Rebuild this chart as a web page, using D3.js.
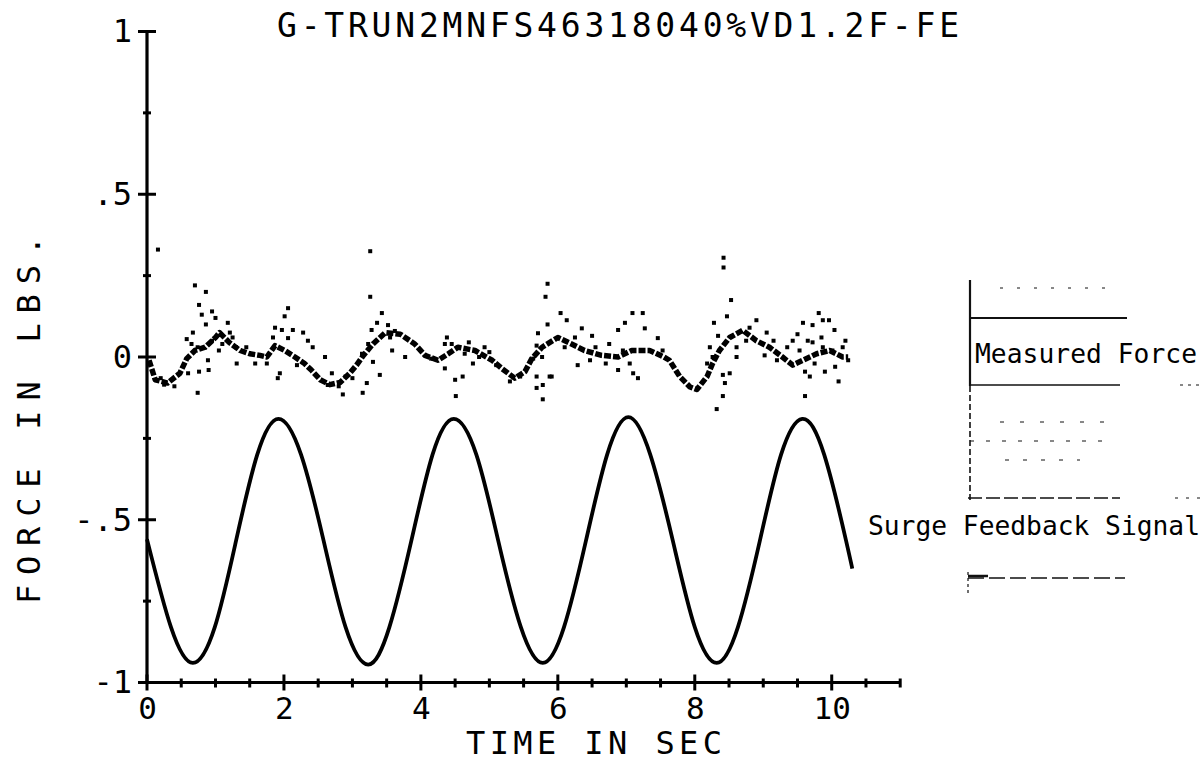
<!DOCTYPE html>
<html>
<head>
<meta charset="utf-8">
<script src="https://cdn.jsdelivr.net/npm/d3@7"></script>
<style>
  html, body { margin: 0; padding: 0; background: #fff; }
  svg { display: block; }
  text { font-family: "DejaVu Sans Mono", "Liberation Mono", monospace; fill: #000; }
</style>
</head>
<body>
<svg id="chart" width="1202" height="763"></svg>
<script>
// ---------------- data ----------------
const titleText = "G-TRUN2MNFS46318040%VD1.2F-FE";
const xTitle = "TIME IN SEC";
const yTitle = "FORCE IN LBS.";
const xMajorTicks = [0, 2, 4, 6, 8, 10];
const xTickLabels = ["0", "2", "4", "6", "8", "10"];
const xMinorTicks = [0.5, 1, 1.5, 2.5, 3, 3.5, 4.5, 5, 5.5, 6.5, 7, 7.5, 8.5, 9, 9.5, 10.5, 11];
const yMajorTicks = [1, 0.5, 0, -0.5, -1];
const yTickLabels = ["1", ".5", "0", "-.5", "-1"];
const yMinorTicks = [0.75, 0.25, -0.25, -0.75];

// Surge Feedback Signal (time in sec, force)
const surgeTime = [0.00, 0.35, 0.67, 0.99, 1.30, 1.61, 1.92, 2.25, 2.58, 2.90, 3.23, 3.54, 3.86, 4.17, 4.48, 4.81, 5.13, 5.46, 5.78, 6.09, 6.41, 6.72, 7.03, 7.35, 7.68, 8.00, 8.32, 8.63, 8.95, 9.26, 9.57, 9.89, 10.21, 10.30];
const surgeForce = [-0.56, -0.83, -0.94, -0.83, -0.565, -0.30, -0.19, -0.30, -0.565, -0.83, -0.945, -0.83, -0.565, -0.30, -0.19, -0.30, -0.565, -0.83, -0.94, -0.83, -0.565, -0.30, -0.185, -0.30, -0.565, -0.83, -0.94, -0.83, -0.565, -0.30, -0.19, -0.30, -0.565, -0.65];

// Measured Force: dense trace
const measTime = [0.03, 0.12, 0.30, 0.48, 0.58, 0.70, 0.85, 1.00, 1.06, 1.20, 1.36, 1.50, 1.65, 1.75, 1.87, 2.01, 2.16, 2.30, 2.40, 2.53, 2.67, 2.82, 2.96, 3.06, 3.16, 3.30, 3.48, 3.70, 3.91, 4.06, 4.25, 4.40, 4.54, 4.79, 5.04, 5.18, 5.37, 5.52, 5.62, 5.77, 6.00, 6.20, 6.39, 6.64, 6.88, 7.08, 7.34, 7.55, 7.63, 7.78, 7.93, 8.03, 8.18, 8.26, 8.36, 8.51, 8.70, 8.90, 9.09, 9.28, 9.43, 9.58, 9.78, 9.97, 10.16, 10.24];
const measForce = [-0.01, -0.07, -0.08, -0.05, -0.005, 0.02, 0.03, 0.06, 0.075, 0.045, 0.02, 0.01, 0.005, 0.0, 0.035, 0.02, 0.0, -0.02, -0.04, -0.07, -0.085, -0.078, -0.05, -0.025, 0.005, 0.04, 0.075, 0.07, 0.04, 0.005, -0.01, 0.01, 0.03, 0.02, -0.01, -0.035, -0.065, -0.045, -0.005, 0.03, 0.06, 0.04, 0.02, 0.005, 0.0, 0.02, 0.02, 0.0, -0.01, -0.06, -0.092, -0.1, -0.06, -0.02, 0.02, 0.06, 0.082, 0.05, 0.03, 0.0, -0.025, -0.01, 0.01, 0.02, 0.0, 0.0];

// Measured Force: scattered samples
const scatterTime = [0.16, 0.70, 0.86, 0.76, 0.95, 0.80, 1.00, 0.86, 1.18, 0.67, 0.58, 0.74, 0.89, 0.76, 0.90, 0.74, 0.60, 1.21, 1.31, 1.58, 1.75, 1.87, 2.06, 2.01, 1.97, 2.13, 2.28, 2.06, 1.84, 1.94, 1.91, 2.19, 2.35, 2.42, 2.60, 2.70, 2.64, 2.86, 3.00, 3.15, 3.21, 3.14, 3.23, 3.28, 3.26, 3.26, 3.43, 3.36, 3.30, 3.40,
  3.52, 3.58, 3.77, 4.35, 4.38, 4.35, 4.50, 4.51, 4.61, 4.64, 4.76, 4.93,
  5.85, 5.82, 6.04, 6.13, 5.85, 5.71, 5.69, 5.77, 5.64, 5.69, 5.88, 5.78, 5.69, 5.78, 5.91, 6.35, 6.50, 6.29, 6.47, 6.88, 6.98, 7.09, 7.05, 6.88,
  7.24, 7.27, 7.46, 7.53, 7.17, 7.10,
  8.42, 8.42, 8.53, 8.47, 8.28, 8.34, 8.22, 8.26, 8.18, 8.41, 8.51, 8.44, 8.41, 8.32, 8.61, 8.61, 8.90, 9.05, 9.02, 9.43, 9.53, 9.58, 9.72, 9.81, 9.87, 9.96, 10.04, 9.72, 9.87, 10.01, 10.16, 10.24, 9.61, 9.68, 9.90, 10.10, 9.61,
  1.10, 1.25, 1.30, 1.45, 0.95, 1.05, 0.65,
  6.10, 6.25, 6.55, 6.70, 6.75, 6.95,
  8.75, 8.80, 9.15, 9.20, 9.35, 9.50, 9.65, 9.75, 9.85, 10.05, 10.20,
  3.55, 3.62, 4.15, 4.45, 4.70, 4.85, 5.00, 5.10, 5.30, 5.45,
  2.80, 2.90, 0.20, 0.40, 0.25];
const scatterForce = [0.33, 0.22, 0.20, 0.16, 0.14, 0.13, 0.12, 0.10, 0.105, 0.075, 0.055, 0.03, -0.01, -0.045, -0.04, -0.11, -0.05, 0.075, -0.02, -0.02, -0.02, 0.09, 0.15, 0.125, 0.083, 0.083, 0.075, 0.058, 0.06, -0.05, -0.065, -0.025, 0.05, 0.03, 0.0, -0.05, -0.086, -0.115, -0.065, -0.11, -0.08, 0.01, 0.04, 0.083, 0.185, 0.325, 0.135, 0.105, -0.015, -0.055,
  0.098, 0.02, 0.0, 0.04, 0.06, -0.035, -0.07, -0.12, -0.06, 0.01, -0.02, 0.03,
  0.225, 0.185, 0.135, 0.113, 0.10, 0.073, 0.035, 0.0, -0.005, -0.06, -0.06, -0.086, -0.095, -0.13, -0.06, 0.088, 0.065, -0.025, -0.01, 0.083, 0.105, 0.135, -0.02, -0.04,
  0.135, 0.088, 0.058, 0.02, -0.065, -0.05,
  0.305, 0.275, 0.175, 0.125, 0.105, 0.065, 0.03, 0.0, -0.02, -0.055, -0.05, -0.08, -0.12, -0.16, 0.0, 0.03, 0.113, 0.075, 0.005, 0.05, 0.02, 0.105, 0.098, 0.135, 0.113, 0.113, 0.083, 0.045, 0.03, 0.02, 0.03, -0.01, -0.045, -0.06, -0.045, -0.075, -0.12,
  0.04, 0.06, 0.03, 0.03, 0.05, 0.02, 0.04,
  0.03, 0.06, 0.03, -0.02, 0.04, 0.02,
  0.05, 0.09, 0.05, -0.01, 0.03, 0.07, 0.05, -0.02, 0.06, -0.03, 0.05,
  0.06, 0.08, -0.005, 0.04, 0.045, 0.0, 0.015, -0.025, -0.075, -0.06,
  -0.09, -0.06, -0.065, -0.09, -0.085];

const legendMeasured = "Measured Force";
const legendSurge = "Surge Feedback Signal";

// ---------------- drawing ----------------
const svg = d3.select("#chart");
const x = d3.scaleLinear().domain([0, 11]).range([147, 900.2]);
const y = d3.scaleLinear().domain([-1, 1]).range([682.5, 31.5]);

// Title
svg.append("text")
  .attr("x", 277).attr("y", 37)
  .attr("font-size", 33)
  .attr("textLength", 682).attr("lengthAdjust", "spacing")
  .text(titleText);

// Surge feedback signal
const surge = surgeTime.map((t, i) => [t, surgeForce[i]]);
svg.append("path")
  .datum(surge)
  .attr("fill", "none")
  .attr("stroke", "#000")
  .attr("stroke-width", 3.8)
  .attr("stroke-linejoin", "round")
  .attr("d", d3.line().x(d => x(d[0])).y(d => y(d[1])).curve(d3.curveNatural));

// Measured force: dense trace
const meas = measTime.map((t, i) => [t, measForce[i]]);
svg.append("path")
  .datum(meas)
  .attr("fill", "none")
  .attr("stroke", "#000")
  .attr("stroke-width", 5.5)
  .attr("stroke-dasharray", "7,2")
  .attr("stroke-linejoin", "round")
  .attr("d", d3.line().x(d => x(d[0])).y(d => y(d[1])).curve(d3.curveLinear));

// Measured force: scattered samples
const scat = scatterTime.map((t, i) => [t, scatterForce[i]]);
svg.append("g").selectAll("rect")
  .data(scat)
  .join("rect")
  .attr("x", d => x(d[0]) - 2)
  .attr("y", d => y(d[1]) - 2)
  .attr("width", 4)
  .attr("height", 4)
  .attr("fill", "#000");

// Axes lines
svg.append("line")
  .attr("x1", x(0)).attr("x2", x(0))
  .attr("y1", y(1)).attr("y2", y(-1))
  .attr("stroke", "#000").attr("stroke-width", 3.2);
svg.append("line")
  .attr("x1", x(0)).attr("x2", x(11))
  .attr("y1", y(-1)).attr("y2", y(-1))
  .attr("stroke", "#000").attr("stroke-width", 3.2);

// Y ticks (crossing)
svg.append("g").selectAll("line")
  .data(yMajorTicks).join("line")
  .attr("x1", x(0) - 9).attr("x2", x(0) + 9)
  .attr("y1", d => y(d)).attr("y2", d => y(d))
  .attr("stroke", "#000").attr("stroke-width", 3);
svg.append("g").selectAll("line")
  .data(yMinorTicks).join("line")
  .attr("x1", x(0) - 4).attr("x2", x(0) + 4)
  .attr("y1", d => y(d)).attr("y2", d => y(d))
  .attr("stroke", "#000").attr("stroke-width", 3);

// X ticks (crossing)
svg.append("g").selectAll("line")
  .data(xMajorTicks).join("line")
  .attr("x1", d => x(d)).attr("x2", d => x(d))
  .attr("y1", y(-1) - 8).attr("y2", y(-1) + 8)
  .attr("stroke", "#000").attr("stroke-width", 3);
svg.append("g").selectAll("line")
  .data(xMinorTicks).join("line")
  .attr("x1", d => x(d)).attr("x2", d => x(d))
  .attr("y1", y(-1) - 4).attr("y2", y(-1) + 5)
  .attr("stroke", "#000").attr("stroke-width", 3);

// Tick labels via d3 axes
const yAxis = d3.axisLeft(y).tickValues(yMajorTicks)
  .tickFormat((d, i) => yTickLabels[i]).tickSize(0).tickPadding(15);
const gy = svg.append("g").attr("transform", `translate(${x(0)},0)`).call(yAxis);
gy.select(".domain").remove();
gy.selectAll("text").attr("font-size", 32).attr("fill", "#000")
  .attr("font-family", "DejaVu Sans Mono, monospace");

const xAxis = d3.axisBottom(x).tickValues(xMajorTicks)
  .tickFormat((d, i) => xTickLabels[i]).tickSize(0).tickPadding(14);
const gx = svg.append("g").attr("transform", `translate(0,${y(-1)})`).call(xAxis);
gx.select(".domain").remove();
gx.selectAll("text").attr("font-size", 31).attr("fill", "#000")
  .attr("font-family", "DejaVu Sans Mono, monospace");

// Axis titles
svg.append("text")
  .attr("x", 466).attr("y", 754)
  .attr("font-size", 32)
  .attr("textLength", 256).attr("lengthAdjust", "spacing")
  .text(xTitle);

svg.append("text")
  .attr("transform", "translate(40,420) rotate(-90)")
  .attr("text-anchor", "middle")
  .attr("font-size", 32)
  .attr("textLength", 368).attr("lengthAdjust", "spacing")
  .text(yTitle);

// Legend remnants (scan frame lines)
const frame = svg.append("g").attr("stroke", "#111").attr("fill", "none");
frame.append("line").attr("x1", 970).attr("x2", 970).attr("y1", 280).attr("y2", 386).attr("stroke-width", 2.2);
frame.append("line").attr("x1", 970).attr("x2", 970).attr("y1", 386).attr("y2", 500).attr("stroke-width", 1.6).attr("stroke-dasharray", "6,3");
frame.append("line").attr("x1", 970).attr("x2", 1127).attr("y1", 318).attr("y2", 318).attr("stroke-width", 1.8);
frame.append("line").attr("x1", 970).attr("x2", 1120).attr("y1", 385).attr("y2", 385).attr("stroke-width", 1.4);
frame.append("line").attr("x1", 968).attr("x2", 1120).attr("y1", 498).attr("y2", 498).attr("stroke-width", 1.4).attr("stroke-dasharray", "14,4");
frame.append("line").attr("x1", 968).attr("x2", 1125).attr("y1", 578).attr("y2", 578).attr("stroke-width", 1.4).attr("stroke-dasharray", "16,5");
frame.append("line").attr("x1", 968).attr("x2", 988).attr("y1", 576).attr("y2", 576).attr("stroke-width", 2.5);
frame.append("line").attr("x1", 968).attr("x2", 968).attr("y1", 572).attr("y2", 596).attr("stroke-width", 1.2).attr("stroke-dasharray", "3,3");
frame.append("line").attr("x1", 1000).attr("x2", 1112).attr("y1", 288).attr("y2", 288).attr("stroke-width", 1).attr("stroke-dasharray", "3,14");
frame.append("line").attr("x1", 1000).attr("x2", 1112).attr("y1", 422).attr("y2", 422).attr("stroke-width", 1).attr("stroke-dasharray", "4,16");
frame.append("line").attr("x1", 970).attr("x2", 1112).attr("y1", 441).attr("y2", 441).attr("stroke-width", 1).attr("stroke-dasharray", "4,12");
frame.append("line").attr("x1", 1005).attr("x2", 1080).attr("y1", 460).attr("y2", 460).attr("stroke-width", 1).attr("stroke-dasharray", "4,14");
frame.append("line").attr("x1", 1180).attr("x2", 1202).attr("y1", 385).attr("y2", 385).attr("stroke-width", 1).attr("stroke-dasharray", "3,5");
frame.append("line").attr("x1", 1175).attr("x2", 1202).attr("y1", 498).attr("y2", 498).attr("stroke-width", 1).attr("stroke-dasharray", "3,8");

// Legend labels
svg.append("text")
  .attr("x", 975).attr("y", 363)
  .attr("font-size", 26.3)
  .attr("textLength", 222).attr("lengthAdjust", "spacing")
  .text(legendMeasured);
svg.append("text")
  .attr("x", 868).attr("y", 535)
  .attr("font-size", 26.3)
  .attr("textLength", 332).attr("lengthAdjust", "spacing")
  .text(legendSurge);
</script>
</body>
</html>
